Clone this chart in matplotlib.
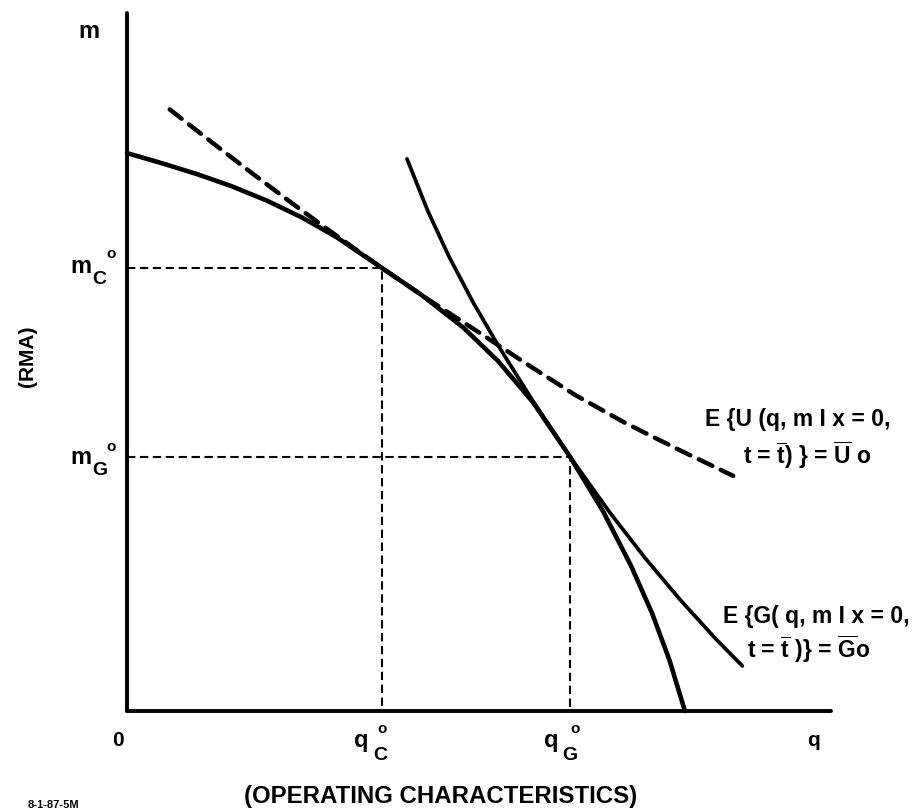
# Sketch of the operating frontier with the two indifference curves (RMA vs. operating characteristics)
import matplotlib
matplotlib.use("Agg")
import matplotlib.pyplot as plt

plt.rcParams['font.family'] = ['Liberation Sans', 'DejaVu Sans']
plt.rcParams['font.weight'] = 'bold'
plt.rcParams['mathtext.fontset'] = 'custom'
plt.rcParams['mathtext.rm'] = 'Liberation Sans:bold'
plt.rcParams['mathtext.it'] = 'Liberation Sans:bold'
plt.rcParams['mathtext.bf'] = 'Liberation Sans:bold'

# Data (q = operating characteristics, m = RMA)
frontier_q = [0.0, 0.5, 1.0, 1.5, 2.0, 2.5, 3.0, 3.64, 4.2, 4.8, 5.3, 5.8, 6.33, 6.8, 7.2, 7.5, 7.75, 7.97]
frontier_m = [7.97, 7.825, 7.67, 7.495, 7.29, 7.05, 6.765, 6.33, 5.949, 5.481, 5.0, 4.41, 3.63, 2.855, 2.075, 1.40, 0.725, 0.0]

u_q = [0.61, 1.2, 1.8, 2.4, 3.0, 3.64, 4.3, 5.0, 5.7, 6.4, 7.1, 7.9, 8.66]
u_m = [8.594, 8.134, 7.672, 7.222, 6.784, 6.33, 5.881, 5.426, 4.964, 4.516, 4.124, 3.724, 3.359]

g_q = [4.0, 4.3, 4.6, 4.95, 5.3, 5.8, 6.33, 6.9, 7.4, 7.9, 8.4, 8.79]
g_m = [7.887, 7.137, 6.492, 5.827, 5.225, 4.425, 3.63, 2.832, 2.187, 1.592, 1.042, 0.644]

q_c, m_c = 3.64, 6.33
q_g, m_g = 6.33, 3.63

W, H = 919, 811
fig = plt.figure(figsize=(W / 100, H / 100), dpi=100)
# axes: y-axis at x=127 px, x-axis at y=711 px, 70 px per unit
ax = fig.add_axes([127 / W, (H - 711) / H, 704 / W, 698 / H])
ax.set_xlim(0, 704 / 70)
ax.set_ylim(0, 698 / 70)
for s in ['top', 'right']:
    ax.spines[s].set_visible(False)
for s in ['left', 'bottom']:
    ax.spines[s].set_linewidth(2.8)
    ax.spines[s].set_capstyle('round')
ax.set_xticks([])
ax.set_yticks([])
ax.patch.set_alpha(0)

# guide lines
ax.plot([0, q_c, q_c], [m_c, m_c, 0], color='black', lw=1.5, ls=(0, (4, 2.2)), clip_on=False)
ax.plot([0, q_g, q_g], [m_g, m_g, 0], color='black', lw=1.5, ls=(0, (4, 2.2)), clip_on=False)

# curves
ax.plot(frontier_q, frontier_m, color='black', lw=3.3, solid_capstyle='round',
        solid_joinstyle='round', clip_on=False)
ax.plot(g_q, g_m, color='black', lw=2.7, solid_capstyle='round', solid_joinstyle='round', clip_on=False)
ax.plot(u_q, u_m, color='black', lw=3.2, ls=(0, (3.4, 2.1)), dash_capstyle='round', clip_on=False)

# axis labels
def px(x, y):
    return x / W, 1 - y / H

fig.text(*px(89, 31), 'm', fontsize=17, ha='center', va='center')
fig.text(*px(118, 741), '0', fontsize=15, ha='center', va='center')
fig.text(*px(814, 741), 'q', fontsize=15, ha='center', va='center')
fig.text(*px(441, 797), '(OPERATING CHARACTERISTICS)', fontsize=17.3, ha='center', va='center')
fig.text(*px(27, 356), '(RMA)', fontsize=15, rotation=90, ha='center', va='center')
fig.text(*px(28, 810), '8-1-87-5M', fontsize=8, ha='left', va='bottom')

def tick_label(xy, main, sub, parts):
    (dm, ds, do) = parts
    kw = dict(xy=xy, textcoords='offset pixels', ha='center', va='center', annotation_clip=False)
    ax.annotate(main, xytext=dm, fontsize=17, **kw)
    ax.annotate(sub, xytext=ds, fontsize=14, **kw)
    ax.annotate('o', xytext=do, fontsize=11, **kw)

tick_label((0, m_c), 'm', 'C', ((-46, 1), (-28, -12), (-16, 14)))
tick_label((0, m_g), 'm', 'G', ((-46, -1), (-27, -14), (-16, 10)))
tick_label((q_c, 0), 'q', 'C', ((-21, -30), (-2, -44), (0, -18)))
tick_label((q_g, 0), 'q', 'G', ((-19, -30), (0, -44), (5, -18)))

# curve labels
kw = dict(textcoords='offset pixels', ha='left', va='baseline', fontsize=16.5, annotation_clip=False)
ax.annotate('E {U (q, m I x = 0,', xy=(u_q[-1], u_m[-1]), xytext=(-28, 50), **kw)
ax.annotate(r't = $\overline{\mathrm{t}}$) } = $\overline{\mathrm{U}}$ o', xy=(u_q[-1], u_m[-1]), xytext=(10, 12), **kw)
ax.annotate('E {G( q, m I x = 0,', xy=(g_q[-1], g_m[-1]), xytext=(-19, 43), **kw)
ax.annotate(r't = $\overline{\mathrm{t}}$ )} = $\overline{\mathrm{G}}$o', xy=(g_q[-1], g_m[-1]), xytext=(5, 8), **kw)

fig.savefig('out.png', dpi=100)
